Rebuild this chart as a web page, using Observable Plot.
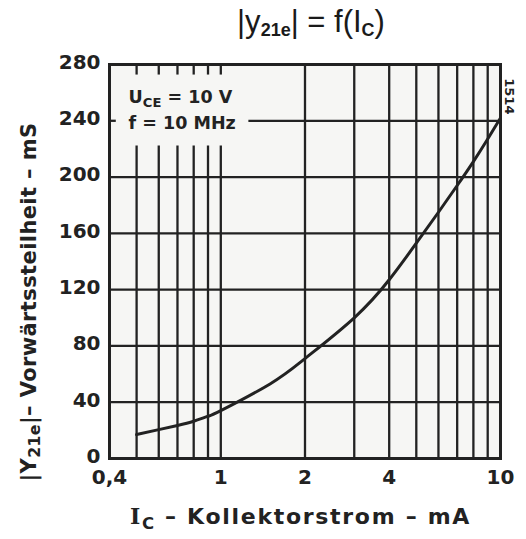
<!DOCTYPE html>
<html>
<head>
<meta charset="utf-8">
<script src="https://cdn.jsdelivr.net/npm/d3@7"></script>
<script src="https://cdn.jsdelivr.net/npm/@observablehq/plot@0.6"></script>
<style>
  html, body { margin: 0; padding: 0; background: #fff; }
  #wrap { width: 526px; height: 539px; position: relative; overflow: hidden; }
  #title { height: 48px; position: relative; font-family: "Liberation Sans", "DejaVu Sans", sans-serif; font-size: 31px; color: #1a1a1a; }
  #title span.t { position: absolute; left: 311px; transform: translateX(-50%); top: 4px; white-space: nowrap; }
  #title sub { font-size: 18px; font-weight: bold; vertical-align: -4px; }
  svg text { font-family: "DejaVu Sans", sans-serif; }
</style>
</head>
<body>
<div id="wrap">
  <div id="title"><span class="t">|y<sub>21e</sub>| = f(I<sub>C</sub>)</span></div>
  <div id="chart"></div>
</div>
<script>
// ---- data ----
const current = [0.5, 0.6, 0.7, 0.8, 0.9, 1, 1.5, 2, 3, 4, 5, 6, 7, 8, 9, 10];          // I_C in mA
const transconductance = [17, 20.5, 23.5, 26.5, 30, 34, 53, 71, 100, 127, 153, 175, 194, 211, 227, 242]; // |y21e| in mS
const xTicks = [0.4, 0.7, 1, 2, 4, 7, 10];
const yTicks = [0, 40, 80, 120, 160, 200, 240, 280];
const gridXFull = [2, 3, 4, 5, 6, 7, 8, 9];
const gridXBox = [0.5, 0.6, 0.7, 0.8, 0.9, 1];
const gridYFull = [40, 80, 120, 160, 200];
const gridYBox = [240];
const data = current.map((c, i) => ({ic: c, y: transconductance[i]}));

const ink = "#222";
const plot = Plot.plot({
  width: 526,
  height: 491,
  marginTop: 16,
  marginLeft: 109,
  marginRight: 26,
  marginBottom: 81,
  style: { background: "transparent", color: ink, fontSize: "20px", fontWeight: "bold" },
  x: { type: "log", domain: [0.4, 10] },
  y: { domain: [0, 280] },
  marks: [
    Plot.frame({ fill: "#f6f6f4" }),
    Plot.ruleX(gridXFull, { y1: 0, y2: 280, stroke: ink, strokeWidth: 2.3 }),
    Plot.ruleX(gridXBox, { y1: 0, y2: 222, stroke: ink, strokeWidth: 2.3 }),
    Plot.ruleX(gridXBox, { y1: 272.5, y2: 280, stroke: ink, strokeWidth: 2.3 }),
    Plot.ruleY(gridYFull, { x1: 0.4, x2: 10, stroke: ink, strokeWidth: 2.3 }),
    Plot.ruleY(gridYBox, { x1: 1.26, x2: 10, stroke: ink, strokeWidth: 2.3 }),
    Plot.ruleY(gridYBox, { x1: 0.4, x2: 0.423, stroke: ink, strokeWidth: 2.3 }),
    Plot.line(data, { x: "ic", y: "y", curve: "natural", stroke: ink, strokeWidth: 3 }),
    Plot.frame({ stroke: ink, strokeWidth: 3 }),
    Plot.axisY({ ticks: yTicks, tickSize: 0, tickPadding: 9, label: null, fontSize: 20, dy: -2 }),
    Plot.axisX({ ticks: xTicks, tickSize: 0, tickPadding: 10, label: null, fontSize: 20, dy: 1,
      tickFormat: d => String(d).replace(".", ",") })
  ]
});
document.getElementById("chart").appendChild(plot);

// ---- rich-text labels (subscripts) ----
const svg = d3.select(plot);
const sx = plot.scale("x"), sy = plot.scale("y");
const X = v => sx.apply(v), Y = v => sy.apply(v);

function rich(parent, parts, attrs) {
  const t = parent.append("text");
  for (const [k, v] of Object.entries(attrs)) t.attr(k, v);
  parts.forEach(([s, sub, fam]) => {
    const ts = t.append("tspan").text(s);
    if (sub) ts.attr("baseline-shift", "-28%").attr("font-size", "0.75em");
    if (fam) ts.attr("font-family", fam);
  });
  return t;
}
const g = svg.append("g").attr("fill", ink).attr("font-weight", "bold");

// annotation box
rich(g, [["U", false], ["CE", true], [" = 10 V", false]],
  { x: X(0.47), y: Y(252), "font-size": 17.5, "text-anchor": "start" });
rich(g, [["f = 10 MHz", false]],
  { x: X(0.47), y: Y(233.5), "font-size": 17.5, "text-anchor": "start" });

// x-axis title
rich(g, [["I", false, "DejaVu Serif"], ["C", true], [" \u2013 Kollektorstrom \u2013 mA", false]],
  { x: (X(0.4) + X(10)) / 2 - 4, y: Y(0) + 66, "text-anchor": "middle", "font-size": 22, "letter-spacing": "1.7px" });

// y-axis title
rich(g, [["|Y", false], ["21e", true], ["|\u2013 Vorwärtssteilheit \u2013 mS", false]],
  { transform: `translate(36,254) rotate(-90)`, "text-anchor": "middle", "font-size": 21, "letter-spacing": "0.4px" });

// figure number
g.append("text").text("1514")
  .attr("transform", `translate(${X(10) + 5},${Y(257)}) rotate(90)`)
  .attr("text-anchor", "middle")
  .attr("font-size", 13);
</script>
</body>
</html>
